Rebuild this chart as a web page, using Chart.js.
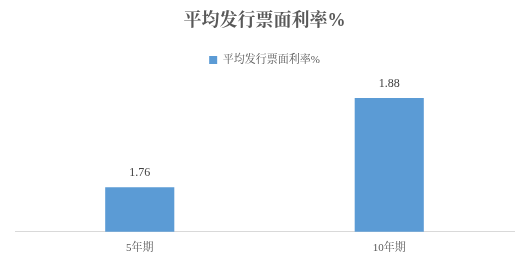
<!DOCTYPE html>
<html>
<head>
<meta charset="utf-8">
<script src="https://cdn.jsdelivr.net/npm/chart.js@4/dist/chart.umd.min.js"></script>
<style>
  html, body { margin: 0; padding: 0; background: #fff; }
  #wrap { width: 530px; height: 265px; }
</style>
</head>
<body>
<div id="wrap"><canvas id="rate-chart"></canvas></div>
<script>
// 数据
const categories = ['5年期', '10年期'];
const rateValues = [1.76, 1.88];
const seriesName = '平均发行票面利率%';

const FONT = "'Liberation Serif', 'Noto Serif CJK SC', 'Noto Sans CJK SC', serif";

// 柱顶数值标签
const valueLabels = {
    id: 'valueLabels',
    afterDatasetsDraw(chart) {
        const ctx = chart.ctx;
        ctx.save();
        ctx.font = '12px ' + FONT;
        ctx.fillStyle = '#404040';
        ctx.textAlign = 'center';
        ctx.textBaseline = 'bottom';
        chart.getDatasetMeta(0).data.forEach((bar, i) => {
            ctx.fillText(rateValues[i].toFixed(2), bar.x, bar.y - 8);
        });
        ctx.restore();
    }
};

new Chart(document.getElementById('rate-chart'), {
    type: 'bar',
    data: {
        labels: categories,
        datasets: [{
            label: seriesName,
            data: rateValues,
            backgroundColor: '#5B9BD5',
            categoryPercentage: 1,
            barPercentage: 0.277
        }]
    },
    options: {
        responsive: true,
        maintainAspectRatio: false,
        animation: false,
        layout: { padding: { left: 15, right: 16, top: 0, bottom: 8 } },
        plugins: {
            title: {
                display: true,
                text: seriesName,
                color: '#595959',
                font: { size: 18, weight: 'bold', family: FONT },
                padding: { top: 11, bottom: 12 }
            },
            legend: {
                position: 'top',
                labels: {
                    color: '#595959',
                    font: { size: 11, family: FONT },
                    boxWidth: 8,
                    boxHeight: 8,
                    padding: 10
                }
            },
            tooltip: { enabled: false }
        },
        scales: {
            x: {
                grid: { display: false },
                border: { display: true, color: '#D9D9D9', width: 1 },
                ticks: { color: '#595959', font: { size: 11, family: FONT }, padding: 2 }
            },
            y: {
                display: false,
                min: 1.7,
                max: 1.91
            }
        }
    },
    plugins: [valueLabels]
});
</script>
</body>
</html>
